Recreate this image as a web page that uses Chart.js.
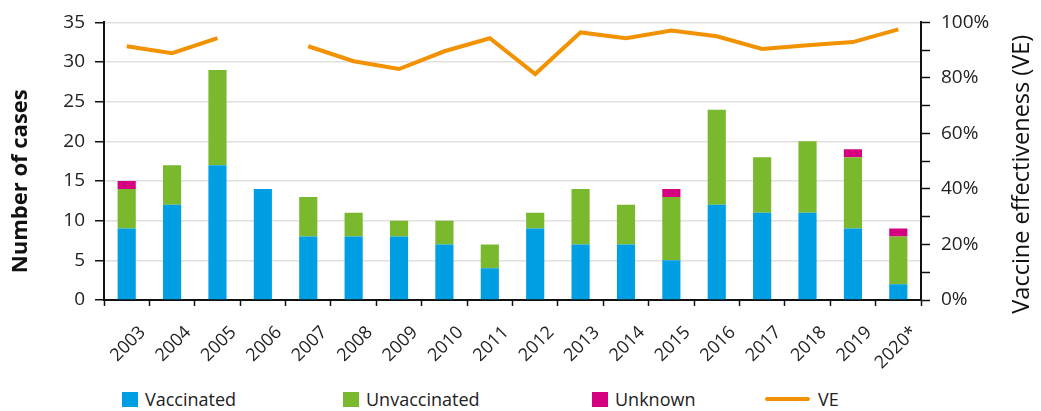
<!DOCTYPE html>
<html>
<head>
<meta charset="utf-8">
<script src="https://cdn.jsdelivr.net/npm/chart.js@4"></script>
<style>
  body { margin: 0; background: #fff; font-family: 'Open Sans', sans-serif; }
  #wrap { position: relative; width: 1041px; height: 411px; }
  #chart-box { position: absolute; left: 0; top: 0; width: 1041px; height: 375px; }
  #legend { position: absolute; left: 0; top: 389px; width: 1041px; height: 20px; }
  .legend-item { position: absolute; top: 0; display: flex; align-items: center; font-size: 18px; color: #222; line-height: 20px; }
  .legend-box { width: 16px; height: 15px; margin-right: 7px; }
  .legend-line { width: 45px; height: 4px; border-radius: 2px; margin-right: 8px; }
</style>
</head>
<body>
<div id="wrap">
  <div id="chart-box"><canvas id="chart"></canvas></div>
  <div id="legend"></div>
</div>
<script>
// Measles cases by vaccination status, with vaccine effectiveness

const years = ['2003', '2004', '2005', '2006', '2007', '2008', '2009', '2010', '2011',
  '2012', '2013', '2014', '2015', '2016', '2017', '2018', '2019', '2020*'];
const vaccinated   = [9, 12, 17, 14, 8, 8, 8, 7, 4, 9, 7, 7, 5, 12, 11, 11, 9, 2];
const unvaccinated = [5, 5, 12, 0, 5, 3, 2, 3, 3, 2, 7, 5, 8, 12, 7, 9, 9, 6];
const unknown      = [1, 0, 0, 0, 0, 0, 0, 0, 0, 0, 0, 0, 1, 0, 0, 0, 1, 1];
const vePercent    = [91.4, 88.9, 94.3, null, 91.4, 86, 83.2, 89.6, 94.3, 81.4, 96.4, 94.3, 97.1, 95, 90.4, 91.8, 92.9, 97.5];

const leftTicks = [0, 5, 10, 15, 20, 25, 30, 35];
const rightTickLabels = ['0%', '20%', '40%', '60%', '80%', '100%'];
const rightTitle = 'Vaccine effectiveness (VE)';

const COLORS = {
  vaccinated: '#009fe3',
  unvaccinated: '#7ab92d',
  unknown: '#d4007f',
  ve: '#f39200',
};

const FONT = "'Open Sans', sans-serif";
const TEXT = '#222';

const barDatasets = [
  { label: 'Vaccinated', data: vaccinated, color: COLORS.vaccinated },
  { label: 'Unvaccinated', data: unvaccinated, color: COLORS.unvaccinated },
  { label: 'Unknown', data: unknown, color: COLORS.unknown },
];

const datasets = barDatasets.map(d => ({
  type: 'bar',
  label: d.label,
  data: d.data,
  backgroundColor: d.color,
  borderWidth: 0,
  yAxisID: 'y',
  barPercentage: 0.4,
  categoryPercentage: 1.0,
  order: 1,
}));

datasets.push({
  type: 'line',
  label: 'VE',
  data: vePercent,
  borderColor: COLORS.ve,
  borderWidth: 4,
  pointRadius: 0,
  spanGaps: false,
  tension: 0,
  yAxisID: 'y1',
  order: 0,
});

// Chart.js turns a right-hand title top-to-bottom; the original reads bottom-to-top
const rightTitlePlugin = {
  id: 'rightTitle',
  afterDraw(chart) {
    const { ctx, chartArea } = chart;
    ctx.save();
    ctx.translate(chart.width - 19, (chartArea.top + chartArea.bottom) / 2 + 13);
    ctx.rotate(-Math.PI / 2);
    ctx.font = `23.5px ${FONT}`;
    ctx.fillStyle = '#111';
    ctx.textAlign = 'center';
    ctx.textBaseline = 'middle';
    ctx.fillText(rightTitle, 0, 0);
    ctx.restore();
  },
};

new Chart(document.getElementById('chart'), {
  data: { labels: years, datasets },
  plugins: [rightTitlePlugin],
  options: {
    responsive: true,
    maintainAspectRatio: false,
    animation: false,
    layout: { padding: { top: 20, left: 0, right: 0, bottom: 0 } },
    plugins: { legend: { display: false }, tooltip: { enabled: false } },
    scales: {
      x: {
        stacked: true,
        border: { color: '#111', width: 2 },
        grid: { drawOnChartArea: false, offset: true, tickLength: 6, tickColor: '#111', tickWidth: 1.5 },
        ticks: {
          minRotation: 45, maxRotation: 45, autoSkip: false,
          font: { family: FONT, size: 18 }, color: TEXT, padding: 16, labelOffset: 16,
        },
        afterFit: s => { s.height = 75; },
      },
      y: {
        stacked: true,
        position: 'left',
        min: 0, max: 35,
        afterBuildTicks: s => { s.ticks = leftTicks.map(v => ({ value: v })); },
        border: { color: '#111', width: 2 },
        grid: { color: '#e0e0e0', lineWidth: 1.5, tickLength: 9, tickColor: '#111', tickWidth: 1.5 },
        ticks: { font: { family: FONT, size: 19 }, color: TEXT, padding: 10 },
        title: {
          display: true,
          text: 'Number of cases       ',
          font: { family: FONT, size: 22, weight: 'bold' },
          color: '#111',
          padding: { top: 8, bottom: 0 },
        },
        afterFit: s => { s.width = 104; },
      },
      y1: {
        stacked: false,
        position: 'right',
        min: 0, max: 100,
        border: { color: '#111', width: 2 },
        grid: { drawOnChartArea: false, tickLength: 9, tickColor: '#111', tickWidth: 1.5 },
        ticks: {
          stepSize: 10,
          font: { family: FONT, size: 19 }, color: TEXT, padding: 11,
          callback: v => (v % 20 === 0 ? rightTickLabels[v / 20] : ''),
        },
        afterFit: s => { s.width = 120; },
      },
    },
  },
});

// HTML legend, built from the dataset labels and colours
const legendItems = [
  { label: 'Vaccinated', color: COLORS.vaccinated, kind: 'box', left: 122 },
  { label: 'Unvaccinated', color: COLORS.unvaccinated, kind: 'box', left: 343 },
  { label: 'Unknown', color: COLORS.unknown, kind: 'box', left: 592 },
  { label: 'VE', color: COLORS.ve, kind: 'line', left: 765 },
];
const legend = document.getElementById('legend');
legendItems.forEach(item => {
  const el = document.createElement('div');
  el.className = 'legend-item';
  el.style.left = item.left + 'px';
  const swatch = document.createElement('span');
  swatch.className = item.kind === 'box' ? 'legend-box' : 'legend-line';
  swatch.style.background = item.color;
  const text = document.createElement('span');
  text.textContent = item.label;
  el.appendChild(swatch);
  el.appendChild(text);
  legend.appendChild(el);
});
</script>
</body>
</html>
